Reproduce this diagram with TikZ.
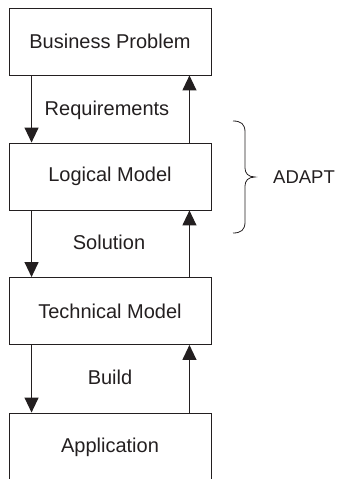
\documentclass[tikz,border=0pt]{standalone}
\usepackage{fontspec}
\setmainfont{Liberation Sans}
\usetikzlibrary{arrows.meta}
\definecolor{ink}{HTML}{231F20}
\tikzset{
  stage/.style={draw=ink, line width=0.9pt, minimum width=202pt, minimum height=67pt,
    inner sep=0pt, font=\fontsize{20}{23}\selectfont, text=ink},
  flow/.style={draw=ink, line width=1.2pt, -{Triangle[width=14pt,length=15pt]}},
  lbl/.style={font=\fontsize{20}{23}\selectfont, text=ink, inner sep=0pt},
  brace/.style={draw=ink, line width=0.8pt}
}
\begin{document}
\begin{tikzpicture}[x=1pt,y=-1pt]
\useasboundingbox (0,0) rectangle (338,479);
\clip (0,0) rectangle (338,479);

% the four stages
\node[stage] (bp)  at (110,41.5) {Business Problem};
\node[stage] (lm)  at (110,176.5) {Logical Model};
\node[stage] (tm)  at (110,311) {Technical Model};
\node[stage, minimum height=69pt] (app) at (110,447.5) {Application};

% downward and upward flows between stages
\draw[flow] ([xshift=23pt]bp.south west) -- ([xshift=23pt]lm.north west);
\draw[flow] ([xshift=-22pt]lm.north east) -- ([xshift=-22pt]bp.south east);
\draw[flow] ([xshift=23pt]lm.south west) -- ([xshift=23pt]tm.north west);
\draw[flow] ([xshift=-22pt]tm.north east) -- ([xshift=-22pt]lm.south east);
\draw[flow] ([xshift=23pt]tm.south west) -- ([xshift=23pt]app.north west);
\draw[flow] ([xshift=-22pt]app.north east) -- ([xshift=-22pt]tm.south east);

% flow labels
\node[lbl] (req) at (107,110) {Requirements};
\node[lbl] (sol) at (109,242) {Solution};
\node[lbl] (bld) at (110,377) {Build};

% curly brace spanning the logical model
\draw[brace] (233,121) .. controls (241,121) and (245,124) .. (245,132)
  -- (245,168) .. controls (245,173) and (248,177) .. (255,177)
  .. controls (248,177) and (245,181) .. (245,186)
  -- (245,222) .. controls (245,230) and (241,233) .. (233,233);
\node[lbl, anchor=west, font=\fontsize{18.5}{22}\selectfont] (adapt) at (273,177) {ADAPT};
\end{tikzpicture}
\end{document}
